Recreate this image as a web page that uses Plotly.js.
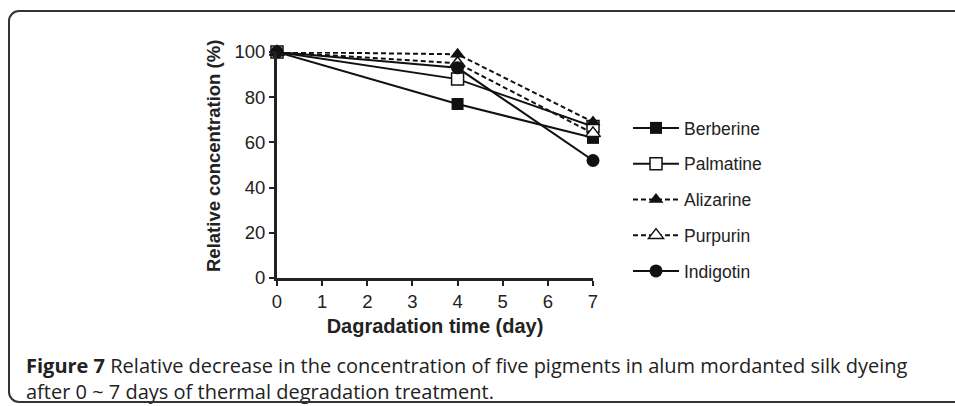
<!DOCTYPE html>
<html>
<head>
<meta charset="utf-8">
<script src="https://cdn.plot.ly/plotly-3.0.1.min.js"></script>
<style>
html,body{margin:0;padding:0;background:#fff;overflow:hidden;}
#wrap{position:relative;width:955px;height:406px;}
#frame{position:absolute;left:8px;top:10px;width:980px;height:393px;border:2px solid #333;border-radius:11px;box-sizing:border-box;pointer-events:none;}
#chart{position:absolute;left:0;top:0;width:955px;height:406px;}
</style>
</head>
<body>
<div id="wrap">
<div id="chart"></div>
<div id="frame"></div>
</div>
<script>
const days = [0, 4, 7];
const seriesNames = ["Berberine", "Palmatine", "Alizarine", "Purpurin", "Indigotin"];
const berberine = [100, 77, 62];
const palmatine = [100, 88, 67];
const alizarine = [100, 99, 69];
const purpurin = [100, 95, 64];
const indigotin = [100, 93, 52];
const xTicks = [0, 1, 2, 3, 4, 5, 6, 7];
const yTicks = [0, 20, 40, 60, 80, 100];

const values = [berberine, palmatine, alizarine, purpurin, indigotin];
const symbols = ["square", "square", "triangle-up", "triangle-up", "circle"];
const openMarker = [false, true, false, true, false];
const dashes = ["solid", "solid", "5px,3px", "5px,3px", "solid"];
const sizes = [12, 12, 13, 13, 13];

const traces = seriesNames.map((n, i) => ({
  x: days, y: values[i], name: n, type: "scatter", mode: "lines+markers",
  legendgroup: "g" + i,
  line: {color: "#111", width: 2, dash: dashes[i]},
  marker: {symbol: symbols[i], size: sizes[i], color: openMarker[i] ? "#fff" : "#111",
           line: {color: "#111", width: openMarker[i] ? 1.5 : 0}},
  cliponaxis: false
}));

const font = "Liberation Sans, Arial, Helvetica, sans-serif";
const capFont = "Open Sans, Noto Sans, sans-serif";
const L = 277, R = 593, T = 52, B = 278;
const pw = R - L, ph = B - T;
function px(x){ return (x - L) / pw; }
function py(y){ return (B - y) / ph; }

const layout = {
  width: 955, height: 406,
  margin: {l: L, r: 955 - R, t: T, b: 406 - B},
  paper_bgcolor: "#fff", plot_bgcolor: "#fff",
  font: {family: font, color: "#222", size: 18},
  showlegend: true,
  legend: {x: px(628), y: py(110), xanchor: "left", yanchor: "top",
           font: {family: font, size: 17.5, color: "#222"}, traceorder: "grouped",
           tracegroupgap: 10, itemwidth: 46, bgcolor: "rgba(0,0,0,0)"},
  xaxis: {range: [0, 7], tickvals: xTicks, ticks: "outside", ticklen: 5, tickwidth: 2, tickcolor: "#222",
          showline: true, linewidth: 3, linecolor: "#222", showgrid: false, zeroline: false,
          tickfont: {family: font, size: 18.5, color: "#222"},
          title: {text: "<b>Dagradation time (day)</b>", font: {family: font, size: 20, color: "#222"}, standoff: 8}},
  yaxis: {range: [0, 100], tickvals: yTicks, ticks: "outside", ticklen: 5, tickwidth: 2, tickcolor: "#222",
          showline: true, linewidth: 3, linecolor: "#222", showgrid: false, zeroline: false,
          tickfont: {family: font, size: 18.5, color: "#222"}},
  annotations: [
    {xref: "paper", yref: "paper", x: px(213), y: py(156), xanchor: "center", yanchor: "middle", showarrow: false,
     textangle: -90, font: {family: font, size: 18.5, color: "#222"},
     text: "<b>Relative concentration (%)</b>"},
    {xref: "paper", yref: "paper", x: px(24), y: py(365), xanchor: "left", yanchor: "middle", showarrow: false,
     align: "left", font: {family: capFont, size: 20, color: "#222"},
     text: "<b>Figure 7</b> Relative decrease in the concentration of five pigments in alum mordanted silk dyeing"},
    {xref: "paper", yref: "paper", x: px(24), y: py(391), xanchor: "left", yanchor: "middle", showarrow: false,
     align: "left", font: {family: capFont, size: 20, color: "#222"},
     text: "after 0 ~ 7 days of thermal degradation treatment."}
  ]
};

Plotly.newPlot("chart", traces, layout, {displayModeBar: false, staticPlot: true});
</script>
</body>
</html>
